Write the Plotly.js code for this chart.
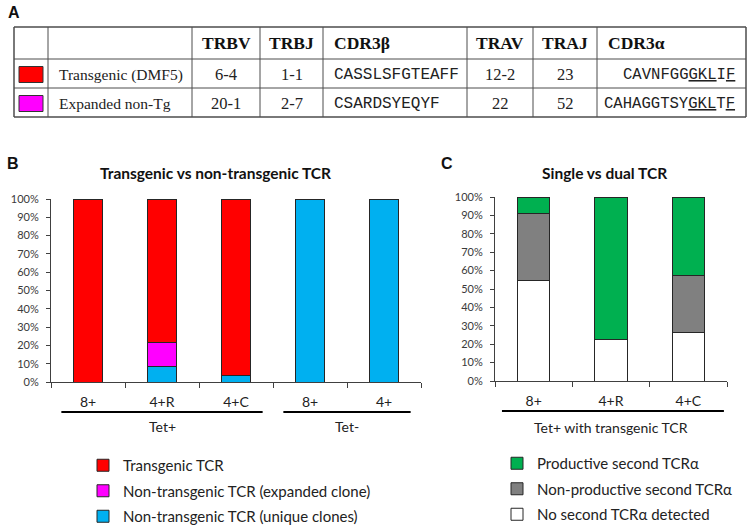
<!DOCTYPE html>
<html>
<head>
<meta charset="utf-8">
<script src="https://cdn.plot.ly/plotly-3.0.1.min.js"></script>
<style>html,body{margin:0;padding:0;background:#fff;}#chart{width:750px;height:531px;}</style>
</head>
<body>
<div id="chart"></div>
<script>
// ---------- Panel A table data ----------
const tableHeader = ['', '', 'TRBV', 'TRBJ', 'CDR3β', 'TRAV', 'TRAJ', 'CDR3α'];
const cloneNames = ['Transgenic (DMF5)', 'Expanded non-Tg'];
const cloneColors = ['#FF0000', '#FF00FF'];
const trbv = ['6-4', '20-1'];
const trbj = ['1-1', '2-7'];
const cdr3b = ['CASSLSFGTEAFF', 'CSARDSYEQYF'];
const trav = ['12-2', '22'];
const traj = ['23', '52'];
const cdr3a = ['CAVNFGG<u>GKL</u>I<u>F</u>', 'CAHAGGTSY<u>GKL</u>T<u>F</u>'];

// ---------- Panel B data ----------
const bCategories = ['8+', '4+R', '4+C', '8+', '4+'];
const bGroupNames = ['Tet+', 'Tet-'];
const bGroupStart = [0, 3];
const bGroupEnd = [2, 4];
const bSeriesNames = ['Non-transgenic TCR (unique clones)', 'Non-transgenic TCR (expanded clone)', 'Transgenic TCR'];
const bUnique = [0, 8.7, 3.8, 100, 100];
const bExpanded = [0, 13.0, 0, 0, 0];
const bTransgenic = [100, 78.3, 96.2, 0, 0];
const bColors = ['#00B0F0', '#FF00FF', '#FF0000'];

// ---------- Panel C data ----------
const cCategories = ['8+', '4+R', '4+C'];
const cGroupName = 'Tet+ with transgenic TCR';
const cSeriesNames = ['No second TCRα detected', 'Non-productive second TCRα', 'Productive second TCRα'];
const cNone = [54.5, 22.5, 26.5];
const cNonProductive = [36.4, 0, 30.6];
const cProductive = [9.1, 77.5, 42.9];
const cColors = ['#FFFFFF', '#808080', '#00B050'];

const yTicks = [0, 10, 20, 30, 40, 50, 60, 70, 80, 90, 100];
const yTickText = yTicks.map(v => v + '%');

// ---------- helpers ----------
const W = 750, H = 531;
const px = v => v / W;
const py = v => 1 - v / H;
const idx = arr => arr.map((_, i) => i);
const outline = {color: '#262626', width: 1};

const traces = [];
const bSeries = [bUnique, bExpanded, bTransgenic];
bSeries.forEach((vals, k) => {
  traces.push({
    type: 'bar', x: idx(bCategories), y: vals, name: bSeriesNames[k],
    marker: {color: bColors[k], line: outline}, width: 0.4,
    xaxis: 'x', yaxis: 'y', legend: 'legend', legendgroup: 'b' + k,
    legendrank: bSeries.length - k, hoverinfo: 'skip'
  });
});
const cSeries = [cNone, cNonProductive, cProductive];
cSeries.forEach((vals, k) => {
  traces.push({
    type: 'bar', x: idx(cCategories), y: vals, name: cSeriesNames[k],
    marker: {color: cColors[k], line: outline}, width: 0.42,
    xaxis: 'x2', yaxis: 'y2', legend: 'legend2', legendgroup: 'c' + k,
    legendrank: cSeries.length - k, hoverinfo: 'skip'
  });
});

const shapes = [];
const annotations = [];

// ---------- Panel A table (grid built from column widths / row heights) ----------
const colWidthsPx = [34, 144, 68, 63, 144, 66, 64, 149];
const rowHeightsPx = [32, 29, 29];
const tableX0 = 14, tableY0 = 27, cellPad = 9;
const colEdges = [tableX0];
colWidthsPx.forEach(w => colEdges.push(colEdges[colEdges.length - 1] + w));
const rowEdges = [tableY0];
rowHeightsPx.forEach(h => rowEdges.push(rowEdges[rowEdges.length - 1] + h));
const tX1 = colEdges[colEdges.length - 1], tY1 = rowEdges[rowEdges.length - 1];
const gridColor = '#4d4d4d';
colEdges.forEach((x, i) => {
  const outer = i === 0 || i === colEdges.length - 1;
  shapes.push({type: 'line', xref: 'paper', yref: 'paper', x0: px(x), x1: px(x), y0: py(tableY0), y1: py(tY1),
    line: {color: gridColor, width: outer ? 1.5 : 1}});
});
rowEdges.forEach((y, i) => {
  const outer = i === 0 || i === rowEdges.length - 1;
  shapes.push({type: 'line', xref: 'paper', yref: 'paper', x0: px(tableX0), x1: px(tX1), y0: py(y), y1: py(y),
    line: {color: gridColor, width: outer ? 1.5 : 1}});
});
const serif = 'Liberation Serif, Times New Roman, serif';
const mono = 'Liberation Mono, Courier New, monospace';
const colAlignHeader = ['left', 'left', 'center', 'center', 'left', 'center', 'center', 'left'];
const colAlignCells = ['center', 'left', 'center', 'center', 'left', 'center', 'center', 'right'];
const colFontCells = [
  {family: serif, size: 15.5}, {family: serif, size: 15.5}, {family: serif, size: 16.5}, {family: serif, size: 16.5},
  {family: mono, size: 16}, {family: serif, size: 16.5}, {family: serif, size: 16.5}, {family: mono, size: 15.6}
];
function cellX(ci, align) {
  if (align === 'left') return colEdges[ci] + cellPad;
  if (align === 'right') return colEdges[ci + 1] - cellPad;
  return (colEdges[ci] + colEdges[ci + 1]) / 2;
}
tableHeader.forEach((h, ci) => {
  if (!h) return;
  annotations.push({xref: 'paper', yref: 'paper', x: px(cellX(ci, colAlignHeader[ci])),
    y: py((rowEdges[0] + rowEdges[1]) / 2), text: '<b>' + h + '</b>', showarrow: false,
    xanchor: colAlignHeader[ci], yanchor: 'middle', font: {family: serif, size: 17.5, color: '#111'}});
});
const tableColumns = [cloneNames.map(() => ''), cloneNames, trbv, trbj, cdr3b, trav, traj, cdr3a];
tableColumns.forEach((col, ci) => {
  col.forEach((val, ri) => {
    const yc = (rowEdges[ri + 1] + rowEdges[ri + 2]) / 2 + 1;
    if (ci === 0) {
      const xc = (colEdges[0] + colEdges[1]) / 2;
      shapes.push({type: 'rect', xref: 'paper', yref: 'paper',
        x0: px(xc - 12), x1: px(xc + 12), y0: py(yc + 8), y1: py(yc - 8),
        fillcolor: cloneColors[ri], line: {color: '#333', width: 1}});
      return;
    }
    annotations.push({xref: 'paper', yref: 'paper', x: px(cellX(ci, colAlignCells[ci])), y: py(yc),
      text: val, showarrow: false, xanchor: colAlignCells[ci], yanchor: 'middle',
      font: Object.assign({color: '#222'}, colFontCells[ci])});
  });
});

// ---------- group brackets ----------
const bracketY = 412, groupLabelY = 426;
const groupFont = {family: 'Lato', size: 14, color: '#222'};
bGroupNames.forEach((g, i) => {
  shapes.push({type: 'line', xref: 'x', yref: 'paper',
    x0: bGroupStart[i] - 0.36, x1: bGroupEnd[i] + 0.36, y0: py(bracketY), y1: py(bracketY),
    line: {color: '#000', width: 2}});
  annotations.push({xref: 'x', yref: 'paper', x: (bGroupStart[i] + bGroupEnd[i]) / 2, y: py(groupLabelY),
    text: g, showarrow: false, font: groupFont, xanchor: 'center', yanchor: 'middle'});
});
shapes.push({type: 'line', xref: 'x2', yref: 'paper',
  x0: -0.41, x1: cCategories.length - 1 + 0.46, y0: py(bracketY - 1), y1: py(bracketY - 1),
  line: {color: '#000', width: 2}});
annotations.push({xref: 'x2', yref: 'paper', x: (cCategories.length - 1) / 2, y: py(groupLabelY + 1),
  text: cGroupName, showarrow: false, font: groupFont, xanchor: 'center', yanchor: 'middle'});

// ---------- titles and panel letters ----------
const titleFont = {family: 'Lato', size: 15.5, color: '#111'};
annotations.push({xref: 'paper', yref: 'paper', x: px(215), y: py(173), text: '<b>Transgenic vs non-transgenic TCR</b>', showarrow: false, font: titleFont, xanchor: 'center', yanchor: 'middle'});
annotations.push({xref: 'paper', yref: 'paper', x: px(604), y: py(173), text: '<b>Single vs dual TCR</b>', showarrow: false, font: titleFont, xanchor: 'center', yanchor: 'middle'});
const letterFont = {family: 'Liberation Sans, Arial', size: 16, color: '#111'};
annotations.push({xref: 'paper', yref: 'paper', x: px(14), y: py(12), text: '<b>A</b>', showarrow: false, font: letterFont, xanchor: 'center', yanchor: 'middle'});
annotations.push({xref: 'paper', yref: 'paper', x: px(13), y: py(163), text: '<b>B</b>', showarrow: false, font: letterFont, xanchor: 'center', yanchor: 'middle'});
annotations.push({xref: 'paper', yref: 'paper', x: px(447), y: py(163), text: '<b>C</b>', showarrow: false, font: letterFont, xanchor: 'center', yanchor: 'middle'});

const yAxisCommon = {
  range: [0, 100], tickmode: 'array', tickvals: yTicks, ticktext: yTickText, ticks: 'outside', ticklen: 4,
  tickcolor: '#404040', showline: true, linecolor: '#404040', linewidth: 1,
  showgrid: false, zeroline: false, fixedrange: true, ticklabelstandoff: 5,
  tickfont: {family: 'Lato', size: 11, color: '#3a3a3a'}
};
const xAxisCommon = {
  ticks: '', showline: true, linecolor: '#404040', linewidth: 1,
  showgrid: false, zeroline: false, fixedrange: true,
  tickfont: {family: 'Lato', size: 14, color: '#222'}, ticklabelstandoff: 7,
  minor: {tick0: -0.5, dtick: 1, ticks: 'outside', ticklen: 5, tickcolor: '#404040', showgrid: false}
};

const legendCommon = {xanchor: 'left', yanchor: 'top', traceorder: 'grouped',
  tracegroupgap: 3, bgcolor: 'rgba(0,0,0,0)', font: {family: 'Lato', size: 15, color: '#222'}};

const layout = {
  width: W, height: H, margin: {l: 0, r: 0, t: 0, b: 0, autoexpand: false},
  paper_bgcolor: '#fff', plot_bgcolor: 'rgba(0,0,0,0)',
  barmode: 'stack', showlegend: true,
  xaxis: Object.assign({}, xAxisCommon, {domain: [px(51), px(421)], range: [-0.5, bCategories.length - 0.5],
    tickmode: 'array', tickvals: idx(bCategories), ticktext: bCategories, anchor: 'y'}),
  yaxis: Object.assign({}, yAxisCommon, {domain: [py(382), py(199)], anchor: 'x'}),
  xaxis2: Object.assign({}, xAxisCommon, {domain: [px(495), px(727)], range: [-0.5, cCategories.length - 0.5],
    tickmode: 'array', tickvals: idx(cCategories), ticktext: cCategories, anchor: 'y2'}),
  yaxis2: Object.assign({}, yAxisCommon, {domain: [py(381), py(197)], anchor: 'x2'}),
  legend: Object.assign({}, legendCommon, {x: px(83), y: py(449)}),
  legend2: Object.assign({}, legendCommon, {x: px(497), y: py(447)}),
  shapes: shapes, annotations: annotations
};

Plotly.newPlot('chart', traces, layout, {displayModeBar: false, staticPlot: true});
</script>
</body>
</html>
